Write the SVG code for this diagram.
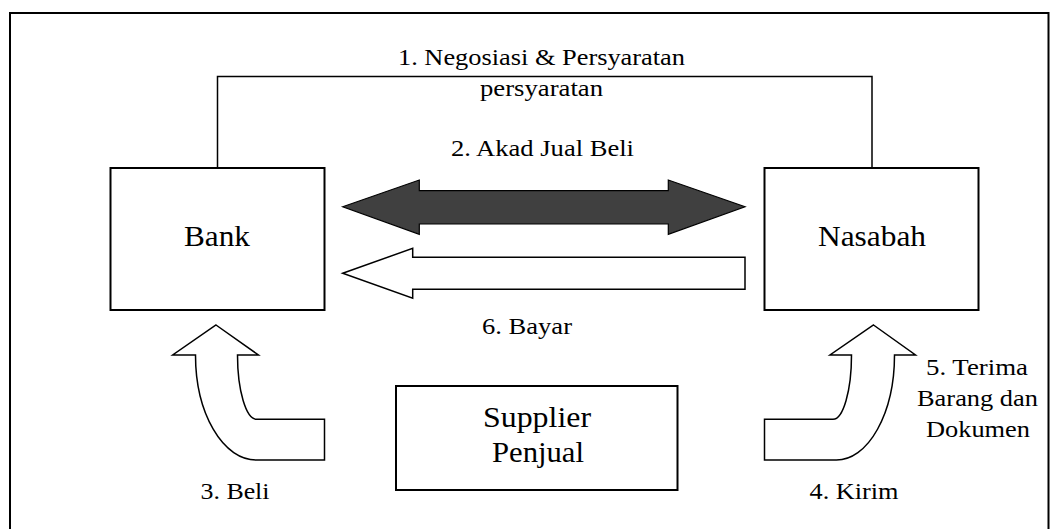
<svg xmlns="http://www.w3.org/2000/svg" width="1058" height="529" viewBox="0 0 1058 529">
  <style>
    .box { fill: #ffffff; stroke: #000000; stroke-width: 2; }
    .frame { fill: none; stroke: #000000; stroke-width: 2; }
    .line { fill: none; stroke: #000000; stroke-width: 1.5; }
    .arrow-dark { fill: #404040; stroke: #000000; stroke-width: 1.2; stroke-linejoin: miter; }
    .arrow-light { fill: #ffffff; stroke: #000000; stroke-width: 1.5; stroke-linejoin: miter; }
    text { font-family: "Liberation Serif", "Tinos", "Noto Serif", "DejaVu Serif", serif; fill: #000000; text-anchor: middle; }
    .node-label { font-size: 29px; }
    .edge-label { font-size: 24px; }
  </style>

  <rect width="1058" height="529" fill="#ffffff"/>

  <!-- outer frame -->
  <path class="frame" d="M 10,540 L 10,13 L 1048.5,13 L 1048.5,540"/>

  <!-- connectors -->
  <g id="connectors">
    <!-- 1. negotiation bracket between Bank and Nasabah -->
    <path class="line" d="M 217.5,168 L 217.5,76.5 L 872,76.5 L 872,168"/>
    <!-- 2. sale contract: double-headed arrow -->
    <path class="arrow-dark" d="M 342.7,206.7 L 419.3,180 L 419.3,190.7 L 668.3,190.7 L 668.3,180 L 745,206.7 L 668.3,234.3 L 668.3,224 L 419.3,224 L 419.3,234.3 Z"/>
    <!-- 6. payment: arrow from Nasabah to Bank -->
    <path class="arrow-light" d="M 342.7,273.3 L 412.7,248.3 L 412.7,257.3 L 745,257.3 L 745,289.3 L 412.7,289.3 L 412.7,298.3 Z"/>
    <!-- 3. purchase: bent arrow from supplier up to Bank -->
    <path class="arrow-light" d="M 216,325 L 258.5,355 L 237.5,355 A 19.2,64.3 0 0 0 256.7,419.3 L 324.5,419.3 L 324.5,460 L 256,460 A 60.5,105 0 0 1 195.5,355 L 172.7,355 Z"/>
    <!-- 4./5. delivery: bent arrow from supplier up to Nasabah -->
    <path class="arrow-light" d="M 873.5,325 L 915.5,355 L 894.5,355 A 58,105 0 0 1 836.5,460 L 764.5,460 L 764.5,419.3 L 833,419.3 A 18.5,64.3 0 0 0 851.5,355 L 830,355 Z"/>

    <text class="edge-label" x="541.5" y="65" textLength="287" lengthAdjust="spacingAndGlyphs">1. Negosiasi &amp; Persyaratan</text>
    <text class="edge-label" x="541.5" y="96" textLength="123" lengthAdjust="spacingAndGlyphs">persyaratan</text>
    <text class="edge-label" x="542.5" y="156" textLength="183" lengthAdjust="spacingAndGlyphs">2. Akad Jual Beli</text>
    <text class="edge-label" x="527" y="334" textLength="90" lengthAdjust="spacingAndGlyphs">6. Bayar</text>
    <text class="edge-label" x="235" y="499" textLength="69" lengthAdjust="spacingAndGlyphs">3. Beli</text>
    <text class="edge-label" x="854" y="499" textLength="89" lengthAdjust="spacingAndGlyphs">4. Kirim</text>
    <text class="edge-label" x="977" y="375" textLength="102" lengthAdjust="spacingAndGlyphs">5. Terima</text>
    <text class="edge-label" x="977.5" y="406" textLength="121" lengthAdjust="spacingAndGlyphs">Barang dan</text>
    <text class="edge-label" x="978" y="436.5" textLength="104" lengthAdjust="spacingAndGlyphs">Dokumen</text>
  </g>

  <!-- nodes -->
  <g id="bank">
    <rect class="box" x="110.5" y="168" width="214" height="142"/>
    <text class="node-label" x="217" y="246" textLength="66" lengthAdjust="spacingAndGlyphs">Bank</text>
  </g>
  <g id="nasabah">
    <rect class="box" x="764.5" y="168" width="214" height="142"/>
    <text class="node-label" x="872" y="246" textLength="108" lengthAdjust="spacingAndGlyphs">Nasabah</text>
  </g>
  <g id="supplier">
    <rect class="box" x="396" y="386" width="281.5" height="104"/>
    <text class="node-label" x="537" y="426.5" textLength="108" lengthAdjust="spacingAndGlyphs">Supplier</text>
    <text class="node-label" x="538" y="462" textLength="92" lengthAdjust="spacingAndGlyphs">Penjual</text>
  </g>
</svg>
